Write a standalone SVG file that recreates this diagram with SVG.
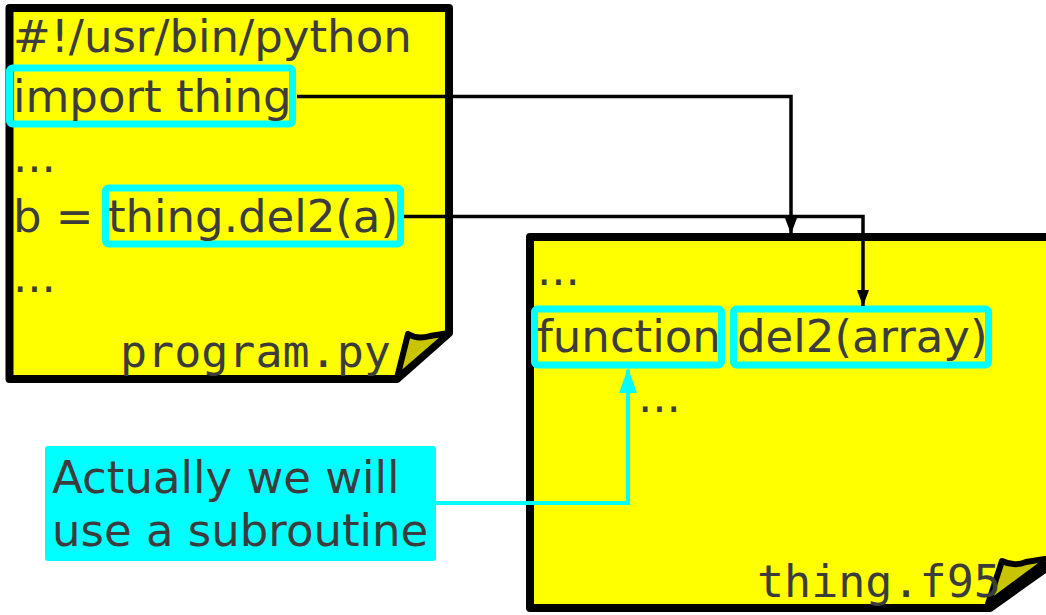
<svg xmlns="http://www.w3.org/2000/svg" width="1046" height="615" viewBox="0 0 1046 615">
<defs>
<style>
.note{fill:#ffff00;stroke:#000;stroke-width:8;stroke-linejoin:round}
.flap{fill:#c8c400;stroke:#000;stroke-width:6;stroke-linejoin:round}
.t{font-family:"DejaVu Sans",sans-serif;font-size:45px;fill:#3c3c3c}
.m{font-family:"DejaVu Sans Mono",monospace;font-size:45px;fill:#3c3c3c}
.hl{fill:none;stroke:#00ffff;stroke-width:7;stroke-linejoin:round}
.c{fill:none;stroke:#000;stroke-width:3.5}
.cc{fill:none;stroke:#00ffff;stroke-width:4}
</style>
<marker id="ab" markerUnits="userSpaceOnUse" markerWidth="16" markerHeight="12" refX="16" refY="6" orient="auto" viewBox="0 0 16 12"><path d="M0,0 L16,6 L0,12 Z" fill="#000"/></marker>
</defs>
<g id="program-py">
<path class="note" d="M9.5,8 H449 V333 L397,379 H9.5 Z"/>
<path class="flap" d="M397,378 L408,334 Q418,340 430,336 L449,333 Z"/>
<text class="t" x="13" y="52">#!/usr/bin/python</text>
<rect class="hl" x="9.5" y="68" width="283" height="56" rx="3"/>
<text class="t" x="13" y="112">import thing</text>
<text class="t" x="13" y="172">...</text>
<rect class="hl" x="105.5" y="188" width="295" height="56" rx="3"/>
<text class="t" x="13" y="232">b = thing.del2(a)</text>
<text class="t" x="13" y="292">...</text>
<text class="m" x="120" y="367">program.py</text>
</g>
<g id="thing-f95">
<path class="note" d="M530,237 H1060 V558 L990,608 H530 Z"/>
<path class="flap" d="M988,604 L1002,561 Q1014,567 1026,562 L1050,558 Z"/>
<text class="t" x="537" y="285">...</text>
<rect class="hl" x="534.5" y="309" width="187" height="56" rx="3"/>
<text class="t" x="537" y="352">function</text>
<rect class="hl" x="733.5" y="309" width="255" height="56" rx="3"/>
<text class="t" x="737" y="352">del2(array)</text>
<text class="t" x="638" y="412">...</text>
<text class="m" x="757" y="597">thing.f95</text>
</g>
<g id="callout">
<rect x="45" y="446" width="391" height="115" rx="3" fill="#00ffff"/>
<text class="t" x="52" y="493">Actually we will</text>
<text class="t" x="52" y="546">use a subroutine</text>
</g>
<g id="connectors">
<path class="c" d="M297,96.5 H791 V234" marker-end="url(#ab)"/>
<path class="c" d="M404,216.5 H863 V306" marker-end="url(#ab)"/>
<path class="cc" d="M436,503 H628 V370"/>
<path d="M628,368 L637,393 L619,393 Z" fill="#00ffff"/>
</g>
</svg>
